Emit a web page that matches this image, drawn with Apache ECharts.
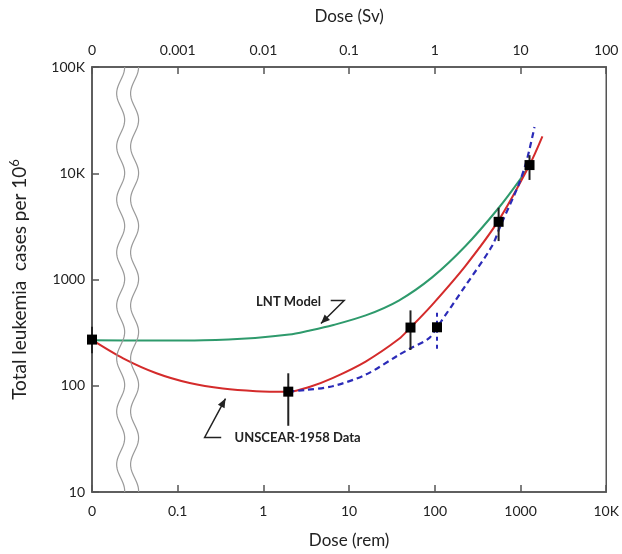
<!DOCTYPE html>
<html>
<head>
<meta charset="utf-8">
<script src="https://cdn.jsdelivr.net/npm/echarts@6/dist/echarts.min.js"></script>
<style>
  html, body { margin: 0; padding: 0; background: #fff; }
  #chart { width: 622px; height: 554px; }
</style>
</head>
<body>
<div id="chart"></div>
<script>
// ---- tick labels ----
const remTickLabels = ['0', '0.1', '1', '10', '100', '1000', '10K'];      // 10^-2 .. 10^4 rem
const svTickLabels  = ['0', '0.001', '0.01', '0.1', '1', '10', '100'];    // 10^-4 .. 10^2 Sv
const caseTickLabels = ['10', '100', '1000', '10K', '100K'];             // 10^1 .. 10^5

// ---- UNSCEAR-1958 data points (dose in rem, "0" plotted at 0.01) ----
const dataDose  = [0.01, 1.95, 52, 106, 555, 1273];
const dataCases = [272, 88, 353, 355, 3490, 11940];

// black error bars
const errDose = [0.01, 1.95, 52, 555, 1273];
const errLow  = [202, 42, 217, 2300, 8650];
const errHigh = [360, 131, 512, 4740, 14800];

// blue dashed error bar
const blueErrDose = [106];
const blueErrLow  = [223];
const blueErrHigh = [530];

// ---- LNT model curve (green) ----
const lntDose  = [0.01, 0.05, 0.2, 0.8, 2, 3.4, 6.4, 15.6, 38, 93, 228, 555, 948, 1273];
const lntCases = [268, 266, 268, 282, 303, 330, 371, 459, 634, 1047, 2065, 4710, 8340, 11900];

// ---- fit through data (red) ----
const fitDose  = [0.01, 0.0231, 0.0565, 0.138, 0.336, 0.822, 1.95, 3.5, 6.4, 15.6, 38, 52, 93, 228, 555, 1273, 1800];
const fitCases = [270, 181, 131, 106, 94, 89, 88, 98, 118, 169, 275, 353, 578, 1346, 3600, 11940, 22200];

// ---- dashed curve (blue) ----
const dashDose  = [1.95, 3, 6.4, 15.6, 38, 52, 85, 106, 228, 465, 581, 948, 1183, 1455];
const dashCases = [88, 91, 99, 127, 195, 225, 279, 355, 875, 2065, 3180, 7760, 13300, 27200];

// ---- annotations (data coordinates) ----
const lntLabel = { text: 'LNT Model', dose: 4.69, cases: 621 };
const lntArrow = [[6.1, 634], [8.75, 634], [4.69, 385]];          // tail segment, then to tip
const unLabel  = { text: 'UNSCEAR-1958 Data', dose: 0.46, cases: 32.6 };
const unArrow  = [[0.322, 32.6], [0.206, 32.6], [0.361, 75.7]];
const breakDose = [0.0216, 0.0314];   // axis-break wavy lines

const FONT = 'Lato, "Open Sans", sans-serif';
const AX = '#555';
const zip = (a, b) => a.map((v, i) => [v, b[i]]);
const zip3 = (a, b, c) => a.map((v, i) => [v, b[i], c[i]]);
const expLabel = (labels, minExp) => v => {
  const e = Math.round(Math.log10(v));
  return labels[e - minExp] !== undefined ? labels[e - minExp] : '';
};

const chart = echarts.init(document.getElementById('chart'), null, { renderer: 'canvas' });

function errRender(color, dashed) {
  return function (params, api) {
    const a = api.coord([api.value(0), api.value(1)]);
    const b = api.coord([api.value(0), api.value(2)]);
    return {
      type: 'line',
      shape: { x1: a[0], y1: a[1], x2: b[0], y2: b[1] },
      style: { stroke: color, lineWidth: 2, lineDash: dashed ? [4, 4] : null }
    };
  };
}

const axisCommon = {
  type: 'log', logBase: 10,
  axisLine: { show: true, lineStyle: { color: AX, width: 1.5 } },
  axisTick: { show: true, inside: true, length: 7, lineStyle: { color: AX, width: 1.5 } },
  splitLine: { show: false },
  minorTick: { show: false }
};

chart.setOption({
  animation: false,
  backgroundColor: '#fff',
  grid: { left: 92, right: 14, top: 67, bottom: 59, show: true, borderColor: AX, borderWidth: 1.5, containLabel: false },
  xAxis: [
    Object.assign({}, axisCommon, {
      position: 'bottom', min: 0.01, max: 10000,
      axisLabel: { formatter: expLabel(remTickLabels, -2), fontSize: 14, color: '#222', fontFamily: FONT, margin: 12 },
      name: 'Dose (rem)', nameLocation: 'middle', nameGap: 40,
      nameTextStyle: { fontSize: 17, color: '#222', fontFamily: FONT }
    }),
    Object.assign({}, axisCommon, {
      position: 'top', min: 0.0001, max: 100,
      axisLabel: { formatter: expLabel(svTickLabels, -4), fontSize: 14, color: '#222', fontFamily: FONT, margin: 10 },
      name: 'Dose (Sv)', nameLocation: 'middle', nameGap: 42,
      nameTextStyle: { fontSize: 17, color: '#222', fontFamily: FONT }
    })
  ],
  yAxis: [
    Object.assign({}, axisCommon, {
      position: 'left', min: 10, max: 100000,
      axisLabel: { formatter: expLabel(caseTickLabels, 1), fontSize: 14, color: '#222', fontFamily: FONT, margin: 7 },
      name: 'Total leukemia  cases per 10{sup|6}', nameLocation: 'middle', nameGap: 60, nameRotate: 90,
      nameTextStyle: {
        fontSize: 19, color: '#222', fontFamily: FONT,
        rich: { sup: { fontSize: 13, color: '#222', fontFamily: FONT, padding: [0, 0, 11, 0] } }
      }
    })
  ],
  series: [
    {
      type: 'line', name: 'LNT', data: zip(lntDose, lntCases), smooth: 0.3, showSymbol: false,
      lineStyle: { color: '#2e9a6c', width: 2 }, z: 3
    },
    {
      type: 'line', name: 'fit', data: zip(fitDose, fitCases), smooth: 0.3, showSymbol: false,
      lineStyle: { color: '#d42b2b', width: 2 }, z: 3
    },
    {
      type: 'line', name: 'dash', data: zip(dashDose, dashCases), smooth: 0.3, showSymbol: false,
      lineStyle: { color: '#2b2bb8', width: 2.2, type: [6, 4] }, z: 4
    },
    {
      type: 'custom', name: 'err', data: zip3(errDose, errLow, errHigh), renderItem: errRender('#222', false),
      encode: { x: 0, y: [1, 2] }, clip: false, z: 5
    },
    {
      type: 'custom', name: 'errBlue', data: zip3(blueErrDose, blueErrLow, blueErrHigh), renderItem: errRender('#2b2bb8', true),
      encode: { x: 0, y: [1, 2] }, clip: false, z: 5
    },
    {
      type: 'scatter', name: 'data', data: zip(dataDose, dataCases), symbol: 'rect', symbolSize: 10,
      itemStyle: { color: '#000', opacity: 1 }, z: 6, clip: false
    }
  ]
});

// ---- decorations positioned from data coordinates ----
function px(p) { return chart.convertToPixel({ xAxisIndex: 0, yAxisIndex: 0 }, p); }
function arrowElems(pts) {
  const P = pts.map(px);
  const els = [{
    type: 'polyline', shape: { points: P }, style: { stroke: '#222', lineWidth: 1.5, fill: null }, z: 10
  }];
  const tip = P[P.length - 1], prev = P[P.length - 2];
  let dx = tip[0] - prev[0], dy = tip[1] - prev[1];
  const L = Math.hypot(dx, dy); dx /= L; dy /= L;
  const len = 9, hw = 3.8;
  els.push({
    type: 'polygon',
    shape: { points: [tip, [tip[0] - dx * len - dy * hw, tip[1] - dy * len + dx * hw], [tip[0] - dx * len + dy * hw, tip[1] - dy * len - dx * hw]] },
    style: { fill: '#222' }, z: 10
  });
  return els;
}
const topY = px([0.01, 100000])[1], botY = px([0.01, 10])[1];
const graphics = [];
breakDose.forEach(d => {
  const cx = px([d, 100])[0];
  const pts = [];
  for (let y = topY; y <= botY + 0.01; y += 1) {
    pts.push([cx + 4 * Math.cos(2 * Math.PI * (y - topY) / 53), y]);
  }
  graphics.push({ type: 'polyline', shape: { points: pts }, style: { stroke: '#9a9a9a', lineWidth: 1.2, fill: null }, z: 8 });
});
arrowElems(lntArrow).forEach(e => graphics.push(e));
arrowElems(unArrow).forEach(e => graphics.push(e));
const lp = px([lntLabel.dose, lntLabel.cases]);
graphics.push({ type: 'text', x: lp[0], y: lp[1], style: { text: lntLabel.text, align: 'right', verticalAlign: 'middle', font: 'bold 13px ' + FONT, fill: '#222' }, z: 10 });
const up = px([unLabel.dose, unLabel.cases]);
graphics.push({ type: 'text', x: up[0], y: up[1], style: { text: unLabel.text, align: 'left', verticalAlign: 'middle', font: 'bold 13px ' + FONT, fill: '#222' }, z: 10 });
chart.setOption({ graphic: graphics });
</script>
</body>
</html>
